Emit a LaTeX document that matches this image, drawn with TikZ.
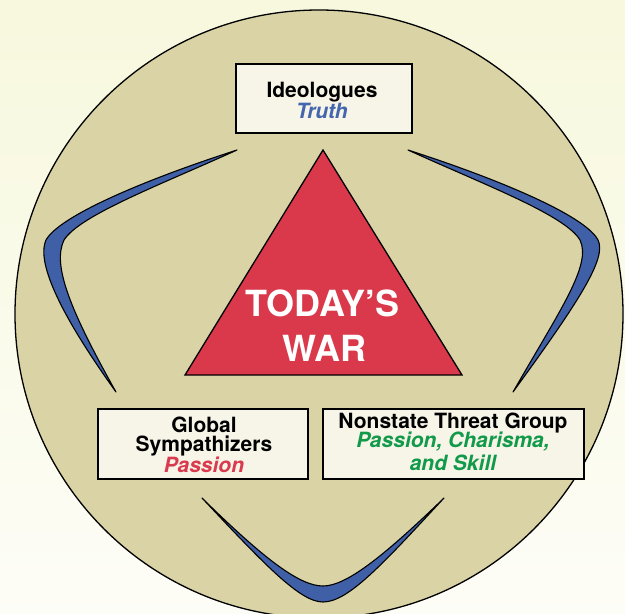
\documentclass[tikz,border=0pt]{standalone}
\usepackage{fontspec}
\setmainfont{TeX Gyre Heros}
\definecolor{bgtop}{RGB}{247,248,221}
\definecolor{bgbot}{RGB}{253,253,247}
\definecolor{khaki}{RGB}{217,211,165}
\definecolor{boxfill}{RGB}{247,244,232}
\definecolor{warred}{RGB}{217,57,74}
\definecolor{boomblue}{RGB}{63,95,166}
\definecolor{truthblue}{RGB}{67,102,174}
\definecolor{passred}{RGB}{217,58,77}
\definecolor{skillgreen}{RGB}{18,154,75}
\tikzset{
  rolebox/.style={draw=black, line width=1.3pt, fill=boxfill, rectangle, inner sep=0pt},
  roletext/.style={anchor=base, inner sep=0pt, font=\bfseries\fontsize{21}{21}\selectfont},
  roleital/.style={anchor=base, inner sep=0pt, font=\bfseries\itshape\fontsize{21}{21}\selectfont},
  wartext/.style={anchor=base, inner sep=0pt, text=white, font=\bfseries\fontsize{36}{36}\selectfont},
  boomerang/.style={draw=black, line width=1.1pt, fill=boomblue, line join=round}
}
\begin{document}
\begin{tikzpicture}[x=1pt,y=-1pt]
\useasboundingbox (0,0) rectangle (625,614);
\shade[top color=bgtop, bottom color=bgbot] (0,0) rectangle (625,614);
\begin{scope}
  \clip (0,0) rectangle (625,614);
  \draw[line width=1.3pt, fill=khaki] (319,314) circle[radius=304];
\end{scope}

% boomerangs
\draw[boomerang] (237,150) .. controls (150,178) and (60,215) .. (46,240)
  .. controls (38,258) and (50,300) .. (116,392)
  .. controls (70,310) and (52,265) .. (64,240)
  .. controls (80,215) and (160,185) .. cycle;
\draw[boomerang] (408,150) .. controls (495,178) and (585,215) .. (598,240)
  .. controls (607,258) and (580,300) .. (513,392)
  .. controls (560,310) and (592,265) .. (580,240)
  .. controls (565,215) and (485,185) .. cycle;
\draw[boomerang] (202,498) .. controls (265,565) and (300,602) .. (323,602)
  .. controls (348,602) and (382,565) .. (444,498)
  .. controls (380,560) and (345,586) .. (323,586)
  .. controls (300,586) and (265,560) .. cycle;

% triangle
\draw[line width=1.3pt, fill=warred, line join=miter] (323,150) -- (185,375) -- (462,375) -- cycle;
\node[wartext] (war1) at (322.5,316.5) {TODAY’S};
\node[wartext] (war2) at (324,361.5) {WAR};

% boxes
\node[rolebox, minimum width=176, minimum height=69] (ideo) at (324,98.5) {};
\node[roletext] (ideoA) at (322,97) {Ideologues};
\node[roleital, text=truthblue] (ideoB) at (322,118) {Truth};

\node[rolebox, minimum width=210, minimum height=70] (glob) at (203,444) {};
\node[roletext] (globA) at (204,432) {Global};
\node[roletext] (globB) at (204,451) {Sympathizers};
\node[roleital, text=passred] (globC) at (204,472) {Passion};

\node[rolebox, minimum width=261, minimum height=70] (nonst) at (453.5,444) {};
\node[roletext] (nonA) at (453,428) {Nonstate Threat Group};
\node[roleital, text=skillgreen] (nonB) at (453,447.5) {Passion, Charisma,};
\node[roleital, text=skillgreen] (nonC) at (453,470) {and Skill};
\end{tikzpicture}
\end{document}
